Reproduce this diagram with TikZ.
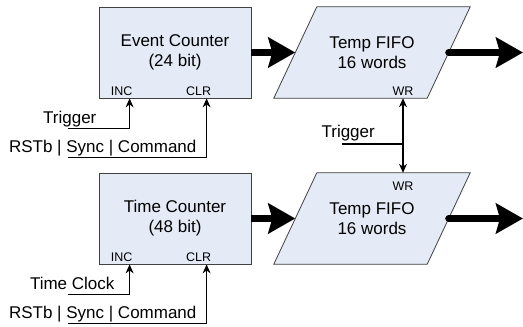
\documentclass[tikz,border=0pt]{standalone}
\usepackage{fontspec}
\setmainfont{Liberation Sans}
\usetikzlibrary{arrows.meta,calc,positioning,backgrounds}

\definecolor{boxfill}{RGB}{228,235,246}
\definecolor{boxline}{RGB}{64,64,64}

\tikzset{
  pintip/.tip={Stealth[length=9pt,width=8pt]},
  counter/.style={draw=boxline, fill=boxfill, line width=0.8pt, minimum width=152pt,
    minimum height=91pt, align=center, inner sep=0pt, font=\fontsize{17}{20}\selectfont},
  fifo/.style={minimum width=153pt, minimum height=91pt, align=center, inner sep=0pt,
    font=\fontsize{17}{20}\selectfont},
  fifoline/.style={draw=boxline, fill=boxfill, line width=0.8pt},
  pin/.style={font=\fontsize{12.5}{14}\selectfont, inner sep=0pt},
  lbl/.style={font=\fontsize{17}{20}\selectfont, inner sep=0pt},
  sig/.style={-pintip, line width=1.2pt},
  bus/.style={-{Stealth[length=27pt,width=30pt,inset=4pt]}, line width=7pt}
}

\begin{document}
\begin{tikzpicture}[x=1pt,y=-1pt]
        \useasboundingbox (0,0) rectangle (523,327);

        % counters, fifos and their inputs
        \foreach \r/\y/\what/\bits/\clk/\cx in {1/52.5/Event/24/Trigger/97, 2/218.5/Time/48/Time Clock/115} {
          \node[counter] (cnt\r) at (175,\y) {\what\ Counter\\(\bits\ bit)};
          \node[fifo] (fifo\r) at (372,\y) {Temp FIFO\\16 words};
          \begin{scope}[on background layer]
            \draw[fifoline] ($(fifo\r.south west)+(-21.5,0)$) -- ($(fifo\r.south east)+(-21.5,0)$)
              -- ($(fifo\r.north east)+(21.5,0)$) -- ($(fifo\r.north west)+(21.5,0)$) -- cycle;
          \end{scope}
          \node[pin] (inc\r) at ($(cnt\r.south west)+(23,-7)$) {INC};
          \node[pin] (clr\r) at ($(cnt\r.south west)+(100,-7)$) {CLR};

          \coordinate (clk\r) at ($(cnt\r.south west)+(-31,30)$);
          \coordinate (rst\r) at ($(cnt\r.south west)+(-31,59)$);
          \node[lbl, anchor=base east] (clklbl\r) at ($(clk\r)+(\cx-68,-5)$) {\clk};
          \node[lbl, anchor=base east] (rstlbl\r) at ($(rst\r)+(129,-5)$) {RSTb | Sync | Command};
          \draw[sig] (clk\r) -| ($(cnt\r.south west)+(31,0)$);
          \draw[sig] (rst\r) -| ($(cnt\r.south west)+(108,0)$);

          \coordinate (out\r) at (523,\y);
          \draw[bus] (cnt\r.east) -- (fifo\r.west);
          \draw[bus, line cap=round] (fifo\r.east) -- (out\r);
        }

        % write strobe shared by both fifos
        \node[pin] (wr1) at (403,91) {WR};
        \node[pin] (wr2) at (403,186) {WR};
        \node[lbl, anchor=base east] (trig) at (375,137) {Trigger};
        \coordinate (trigs) at (342,144);
        \draw[sig, pintip-pintip] (wr1 |- fifo1.south) -- (wr1 |- fifo2.north);
        \draw[line width=1.2pt] (trigs) -- (trigs -| wr1);
\end{tikzpicture}
\end{document}
